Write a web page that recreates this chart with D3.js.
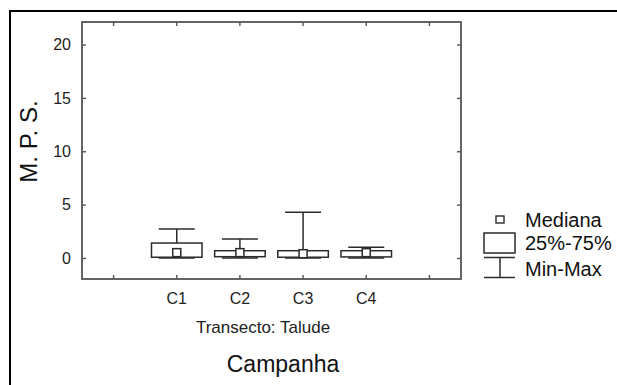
<!DOCTYPE html>
<html>
<head>
<meta charset="utf-8">
<script src="https://cdn.jsdelivr.net/npm/d3@7"></script>
<style>
  html, body { margin: 0; padding: 0; background: #fff; }
  svg { display: block; font-family: Arial, "Liberation Sans", sans-serif; }
</style>
</head>
<body>
<svg id="chart" width="617" height="385"></svg>
<script>
// Campaigns on the x axis (blank slots pad both ends of the axis)
const slots = ["pad0", "C1", "C2", "C3", "C4", "pad1"];
const campaigns = ["C1", "C2", "C3", "C4"];

// Box-plot statistics per campaign (M. P. S.)
const minVals    = [0.00, 0.00, 0.00, 0.00];
const q1Vals     = [0.07, 0.12, 0.07, 0.10];
const medianVals = [0.50, 0.50, 0.40, 0.50];
const q3Vals     = [1.40, 0.68, 0.68, 0.68];
const maxVals    = [2.72, 1.78, 4.28, 1.00];

const yTicks = [0, 5, 10, 15, 20];
const legendLabels = ["Mediana", "25%-75%", "Min-Max"];

const svg = d3.select("#chart");
const ink = "#2b2b2b";
const axisInk = "#555";

// Outer frame
svg.append("rect")
  .attr("x", 10).attr("y", 11)
  .attr("width", 640).attr("height", 420)
  .attr("fill", "none").attr("stroke", "#000").attr("stroke-width", 2);

const plot = { left: 82, right: 461, top: 22, bottom: 279 };

const x = d3.scaleBand().domain(slots).range([plot.left, plot.right]).padding(0);
const y = d3.scaleLinear().domain([-1.97, 22.11]).range([plot.bottom, plot.top]);

const tickLen = 4;
const labelOf = d => d.startsWith("pad") ? "" : d;

// Bottom axis (inward ticks) and top axis mirror
const xAxisBottom = d3.axisBottom(x).tickSizeInner(-tickLen).tickSizeOuter(0).tickPadding(14).tickFormat(labelOf);
const xAxisTop = d3.axisTop(x).tickSizeInner(-tickLen).tickSizeOuter(0).tickFormat("");
const yAxisLeft = d3.axisLeft(y).tickValues(yTicks).tickSizeInner(-tickLen).tickSizeOuter(0).tickPadding(11);
const yAxisRight = d3.axisRight(y).tickValues(yTicks).tickSizeInner(-tickLen).tickSizeOuter(0).tickFormat("");

function styleAxis(g) {
  g.select(".domain").remove();
  g.selectAll(".tick line").attr("stroke", axisInk).attr("stroke-width", 1.4);
  g.selectAll(".tick text").attr("fill", "#222").style("font-size", "16px")
    .style("font-family", "Arial, 'Liberation Sans', sans-serif");
}

svg.append("g").attr("transform", `translate(0,${plot.bottom})`).call(xAxisBottom).call(styleAxis);
svg.append("g").attr("transform", `translate(0,${plot.top})`).call(xAxisTop).call(styleAxis);
svg.append("g").attr("transform", `translate(${plot.left},0)`).call(yAxisLeft).call(styleAxis);
svg.append("g").attr("transform", `translate(${plot.right},0)`).call(yAxisRight).call(styleAxis);

// Plot border
svg.append("rect")
  .attr("x", plot.left).attr("y", plot.top)
  .attr("width", plot.right - plot.left).attr("height", plot.bottom - plot.top)
  .attr("fill", "none").attr("stroke", axisInk).attr("stroke-width", 1.8);

// Box plots
const bw = x.bandwidth();
const boxW = bw * 0.8;
const capW = bw * 0.57;
const medSize = 8;

const stats = campaigns.map((c, i) => ({
  c, min: minVals[i], q1: q1Vals[i], med: medianVals[i], q3: q3Vals[i], max: maxVals[i]
}));

const boxes = svg.append("g").selectAll("g").data(stats).join("g")
  .attr("transform", d => `translate(${x(d.c) + bw / 2},0)`);

// whiskers
boxes.append("line").attr("x1", 0).attr("x2", 0)
  .attr("y1", d => y(d.q3)).attr("y2", d => y(d.max))
  .attr("stroke", ink).attr("stroke-width", 1.5);
boxes.append("line").attr("x1", 0).attr("x2", 0)
  .attr("y1", d => y(d.q1)).attr("y2", d => y(d.min))
  .attr("stroke", ink).attr("stroke-width", 1.5);
// caps
boxes.append("line").attr("x1", -capW / 2).attr("x2", capW / 2)
  .attr("y1", d => y(d.max)).attr("y2", d => y(d.max))
  .attr("stroke", ink).attr("stroke-width", 1.5);
boxes.append("line").attr("x1", -capW / 2).attr("x2", capW / 2)
  .attr("y1", d => y(d.min)).attr("y2", d => y(d.min))
  .attr("stroke", ink).attr("stroke-width", 1.5);
// box
boxes.append("rect")
  .attr("x", -boxW / 2).attr("width", boxW)
  .attr("y", d => y(d.q3)).attr("height", d => y(d.q1) - y(d.q3))
  .attr("fill", "#fff").attr("stroke", ink).attr("stroke-width", 1.5);
// median marker
boxes.append("rect")
  .attr("x", -medSize / 2).attr("width", medSize)
  .attr("y", d => y(d.med) - medSize / 2).attr("height", medSize)
  .attr("fill", "#fff").attr("stroke", ink).attr("stroke-width", 1.5);

// Axis titles
svg.append("text")
  .attr("transform", `translate(37,141.5) rotate(-90)`)
  .attr("text-anchor", "middle").attr("fill", "#111")
  .style("font-size", "24px").text("M. P. S.");

svg.append("text")
  .attr("x", 263).attr("y", 333).attr("text-anchor", "middle").attr("fill", "#222")
  .style("font-size", "17px").text("Transecto: Talude");

svg.append("text")
  .attr("x", 283).attr("y", 372).attr("text-anchor", "middle").attr("fill", "#111")
  .style("font-size", "23px").text("Campanha");

// Legend
const lg = svg.append("g");
const lx = 500;
lg.append("rect").attr("x", lx - 4).attr("y", 216).attr("width", 8).attr("height", 7)
  .attr("fill", "#fff").attr("stroke", ink).attr("stroke-width", 1.4);
lg.append("rect").attr("x", 484).attr("y", 233).attr("width", 31).attr("height", 20)
  .attr("fill", "#fff").attr("stroke", ink).attr("stroke-width", 1.5);
lg.append("line").attr("x1", 484).attr("x2", 515).attr("y1", 257.5).attr("y2", 257.5)
  .attr("stroke", ink).attr("stroke-width", 1.5);
lg.append("line").attr("x1", 484).attr("x2", 515).attr("y1", 277.5).attr("y2", 277.5)
  .attr("stroke", ink).attr("stroke-width", 1.5);
lg.append("line").attr("x1", lx).attr("x2", lx).attr("y1", 257.5).attr("y2", 277.5)
  .attr("stroke", ink).attr("stroke-width", 1.5);

const legendY = [226.5, 250, 275.5];
lg.selectAll("text.leg").data(legendLabels).join("text")
  .attr("class", "leg")
  .attr("x", 525).attr("y", (d, i) => legendY[i]).attr("fill", "#111")
  .style("font-size", "20px").text(d => d);
</script>
</body>
</html>
